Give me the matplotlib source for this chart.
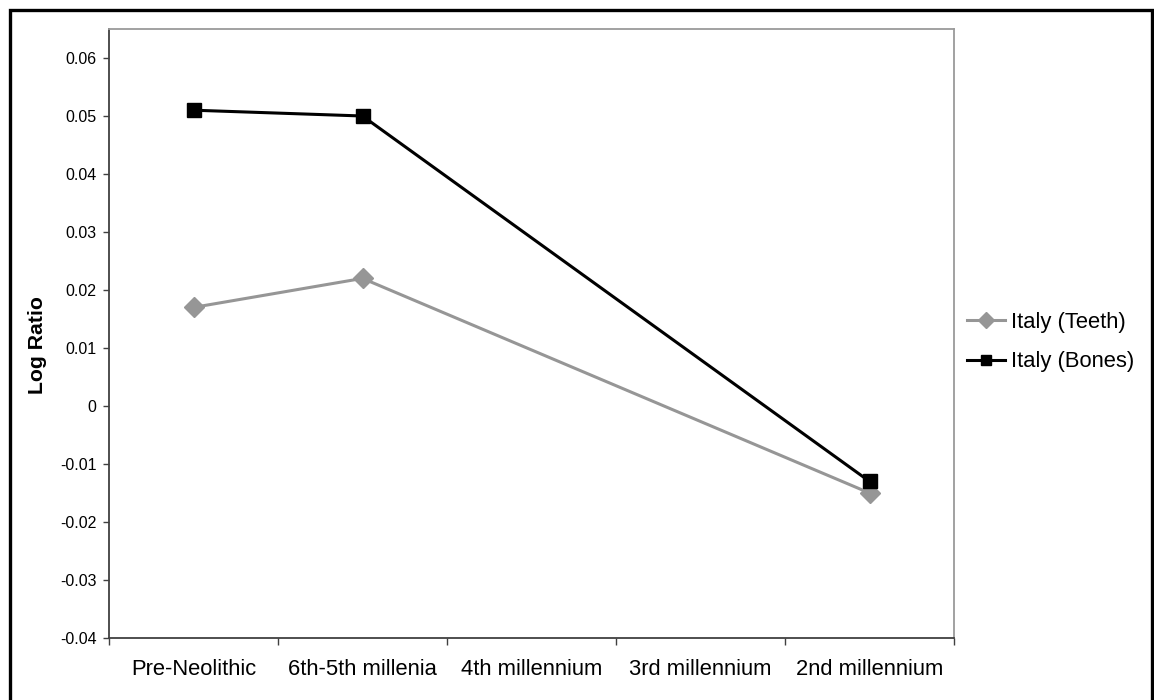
import numpy as np
import matplotlib
matplotlib.use("Agg")
import matplotlib.pyplot as plt
from matplotlib.patches import Rectangle
from matplotlib.ticker import FixedLocator, FuncFormatter

plt.rcParams["font.family"] = ["Liberation Sans", "DejaVu Sans"]

# Periods on the category axis
periods = ["Pre-Neolithic", "6th-5th millenia", "4th millennium",
           "3rd millennium", "2nd millennium"]

# Log ratio per period (NaN where no samples)
teeth = [0.017, 0.022, np.nan, np.nan, -0.015]
bones = [0.051, 0.050, np.nan, np.nan, -0.013]

series_names = ["Italy (Teeth)", "Italy (Bones)"]

W, H = 1154, 700
fig = plt.figure(figsize=(W / 100, H / 100), dpi=100)
fig.patch.set_facecolor("white")

# outer chart border
fig.add_artist(Rectangle((10 / W, -0.05), (1152 - 10) / W, 1.05 - 10 / H,
                         transform=fig.transFigure, fill=False,
                         edgecolor="black", linewidth=2.4, zorder=10))

ax = fig.add_axes([109 / W, 62 / H, 845 / W, 609 / H])

x = np.arange(len(periods))


def plot_series(vals, **kw):
    v = np.asarray(vals, dtype=float)
    m = ~np.isnan(v)
    return ax.plot(x[m], v[m], **kw)[0]


h_teeth = plot_series(teeth, color="#969696", linewidth=2.2, marker="D",
                      markersize=10.5, markerfacecolor="#969696",
                      markeredgecolor="#969696", label=series_names[0],
                      clip_on=False, zorder=3)
h_bones = plot_series(bones, color="black", linewidth=2.2, marker="s",
                      markersize=9.5, markerfacecolor="black",
                      markeredgecolor="black", label=series_names[1],
                      clip_on=False, zorder=4)

ax.set_xlim(-0.5, len(periods) - 0.5)
ax.set_ylim(-0.04, 0.065)

# y axis
ax.yaxis.set_major_locator(FixedLocator(np.round(np.arange(-0.04, 0.0601, 0.01), 2)))
ax.yaxis.set_major_formatter(FuncFormatter(lambda v, p: f"{round(v, 2):g}"))
ax.tick_params(axis="y", which="major", direction="out", length=4.5,
               width=1, color="#404040", labelsize=11.5, pad=4.5)

# x axis: labels at category centres, tick marks at boundaries
ax.set_xticks(x)
ax.set_xticklabels(periods)
ax.tick_params(axis="x", which="major", length=0, labelsize=15.8, pad=15)
ax.set_xticks(np.arange(-0.5, len(periods)), minor=True)
ax.tick_params(axis="x", which="minor", direction="out", length=5,
               width=1, color="#404040")

ax.set_ylabel("Log Ratio", fontsize=15.3, fontweight="bold")
ax.yaxis.set_label_coords(-0.0734, 0.481)

for side in ("left", "bottom"):
    ax.spines[side].set_color("#404040")
    ax.spines[side].set_linewidth(1.3)
for side in ("top", "right"):
    ax.spines[side].set_color("#9a9a9a")
    ax.spines[side].set_linewidth(1.3)

fig.legend(handles=[h_teeth, h_bones], labels=series_names,
           loc="center left", bbox_to_anchor=(967 / W, 1 - 342 / H),
           frameon=False, fontsize=15.8, handlelength=1.75,
           handletextpad=0.27, labelspacing=0.85, markerscale=0.8,
           borderpad=0, borderaxespad=0)

fig.savefig("out.png", dpi=100)
